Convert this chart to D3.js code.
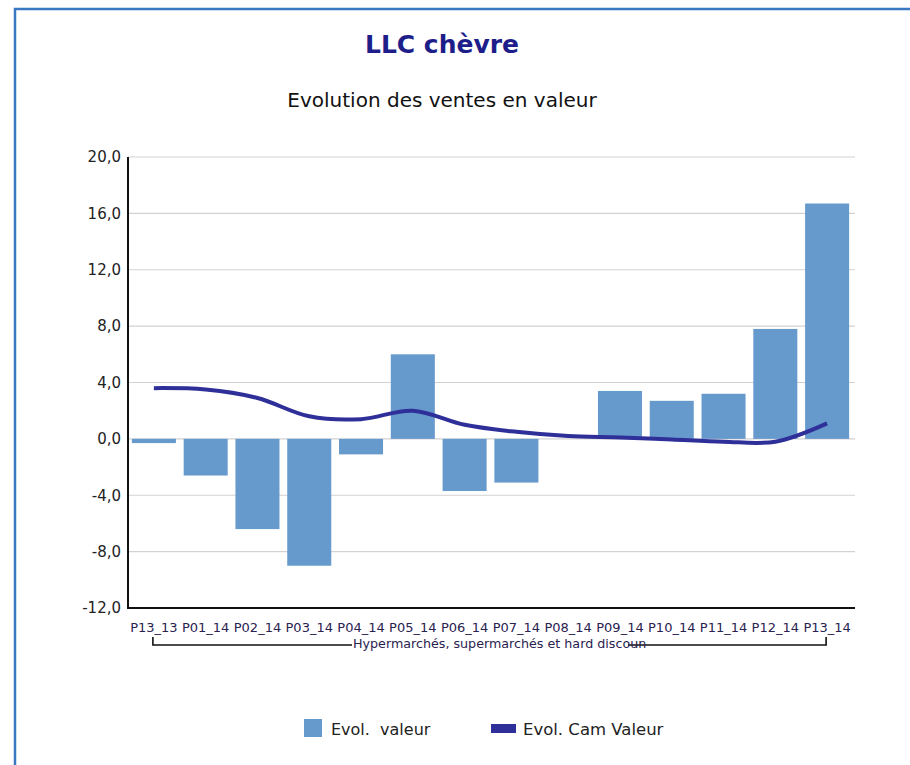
<!DOCTYPE html>
<html>
<head>
<meta charset="utf-8">
<script src="https://cdn.jsdelivr.net/npm/d3@7"></script>
<style>
  html, body { margin: 0; padding: 0; background: #fff; }
  svg { display: block; }
</style>
</head>
<body>
<svg id="chart" width="910" height="765"></svg>
<script>
// Periods, monthly value change (bars) and cumulative change (line), in %
const periods = ["P13_13", "P01_14", "P02_14", "P03_14", "P04_14", "P05_14", "P06_14",
                 "P07_14", "P08_14", "P09_14", "P10_14", "P11_14", "P12_14", "P13_14"];
const evolValeur = [-0.3, -2.6, -6.4, -9.0, -1.1, 6.0, -3.7, -3.1, 0.0, 3.4, 2.7, 3.2, 7.8, 16.7];
const evolCamValeur = [3.6, 3.5, 2.9, 1.6, 1.4, 2.0, 1.0, 0.5, 0.2, 0.1, -0.05, -0.2, -0.2, 1.1];
const yTicks = [-12, -8, -4, 0, 4, 8, 12, 16, 20];
const groupLabel = "Hypermarchés, supermarchés et hard discoun";
const titleText = "LLC chèvre";
const subtitleText = "Evolution des ventes en valeur";
const legendLabels = ["Evol.  valeur", "Evol. Cam Valeur"];

const barColor = "#6699cc";
const lineColor = "#2f2f99";
const font = "'DejaVu Sans', Verdana, sans-serif";

const svg = d3.select("#chart");

// Outer frame
svg.append("rect")
  .attr("x", 15).attr("y", 9)
  .attr("width", 920).attr("height", 800)
  .attr("fill", "none")
  .attr("stroke", "#3b78c4")
  .attr("stroke-width", 2.5);

// Titles
svg.append("text")
  .attr("x", 442).attr("y", 53)
  .attr("text-anchor", "middle")
  .attr("font-family", font)
  .attr("font-weight", "bold")
  .attr("font-size", 25)
  .attr("fill", "#1e1e8a")
  .text(titleText);

svg.append("text")
  .attr("x", 442).attr("y", 107)
  .attr("text-anchor", "middle")
  .attr("font-family", font)
  .attr("font-size", 20)
  .attr("fill", "#111")
  .text(subtitleText);

// Scales
const x0 = 128, x1 = 853, yTop = 157, yBottom = 608;
const x = d3.scaleBand().domain(periods).range([x0, x1]).paddingInner(0.15).paddingOuter(0.075);
const y = d3.scaleLinear().domain([-12, 20]).range([yBottom, yTop]);

// Gridlines
svg.append("g")
  .selectAll("line")
  .data(yTicks)
  .join("line")
  .attr("x1", x0).attr("x2", x1 + 2)
  .attr("y1", d => y(d)).attr("y2", d => y(d))
  .attr("stroke", "#d2d2d2")
  .attr("stroke-width", 1.2);

// Y axis labels
const yAxis = d3.axisLeft(y)
  .tickValues(yTicks)
  .tickSize(0)
  .tickPadding(7)
  .tickFormat(d => d3.format(".1f")(d).replace(".", ",").replace("−", "-"));
const gy = svg.append("g").attr("transform", `translate(${x0},0)`).call(yAxis);
gy.select(".domain").remove();
gy.selectAll("text")
  .attr("font-family", font)
  .attr("font-size", 15)
  .attr("fill", "#222");

// Bars
svg.append("g")
  .selectAll("rect")
  .data(periods.map((p, i) => ({ p, v: evolValeur[i] })))
  .join("rect")
  .attr("x", d => x(d.p))
  .attr("width", x.bandwidth())
  .attr("y", d => y(Math.max(0, d.v)))
  .attr("height", d => Math.abs(y(d.v) - y(0)))
  .attr("fill", barColor);

// Cumulative line
const line = d3.line()
  .x((d, i) => x(periods[i]) + x.bandwidth() / 2)
  .y(d => y(d))
  .curve(d3.curveCatmullRom.alpha(0.5));
svg.append("path")
  .datum(evolCamValeur)
  .attr("d", line)
  .attr("fill", "none")
  .attr("stroke", lineColor)
  .attr("stroke-width", 4)
  .attr("stroke-linejoin", "round");

// Axis lines
svg.append("line")
  .attr("x1", x0).attr("x2", x0)
  .attr("y1", yTop).attr("y2", yBottom + 1)
  .attr("stroke", "#111").attr("stroke-width", 2);
svg.append("line")
  .attr("x1", x0 - 1).attr("x2", x1 + 2)
  .attr("y1", yBottom).attr("y2", yBottom)
  .attr("stroke", "#111").attr("stroke-width", 2);

// X axis labels
const xAxis = d3.axisBottom(x).tickSize(0).tickPadding(15);
const gx = svg.append("g").attr("transform", `translate(0,${yBottom})`).call(xAxis);
gx.select(".domain").remove();
gx.selectAll("text")
  .attr("font-family", font)
  .attr("font-size", 13)
  .attr("fill", "#2a2250");

// Group bracket
const bx0 = x(periods[0]) + x.bandwidth() / 2 - 1;
const bx1 = x(periods[periods.length - 1]) + x.bandwidth() / 2 - 1;
const by = 645, byTop = 637;
const bracket = svg.append("g").attr("stroke", "#111").attr("stroke-width", 1.6).attr("fill", "none");
bracket.append("path").attr("d", `M${bx0},${byTop}V${by}H352`);
bracket.append("path").attr("d", `M628,${by}H${bx1}V${byTop}`);
svg.append("text")
  .attr("x", 353).attr("y", 648)
  .attr("font-family", font)
  .attr("font-size", 12.7)
  .attr("fill", "#2a2250")
  .text(groupLabel);

// Legend
const lg = svg.append("g");
lg.append("rect").attr("x", 304).attr("y", 719).attr("width", 18).attr("height", 18).attr("fill", barColor);
lg.append("text").attr("x", 331).attr("y", 735)
  .attr("font-family", font).attr("font-size", 16).attr("fill", "#222")
  .attr("xml:space", "preserve").style("white-space", "pre")
  .text(legendLabels[0]);
lg.append("rect").attr("x", 491).attr("y", 724).attr("width", 25).attr("height", 9).attr("fill", lineColor);
lg.append("text").attr("x", 523).attr("y", 735)
  .attr("font-family", font).attr("font-size", 16.5).attr("fill", "#222")
  .text(legendLabels[1]);
</script>
</body>
</html>
